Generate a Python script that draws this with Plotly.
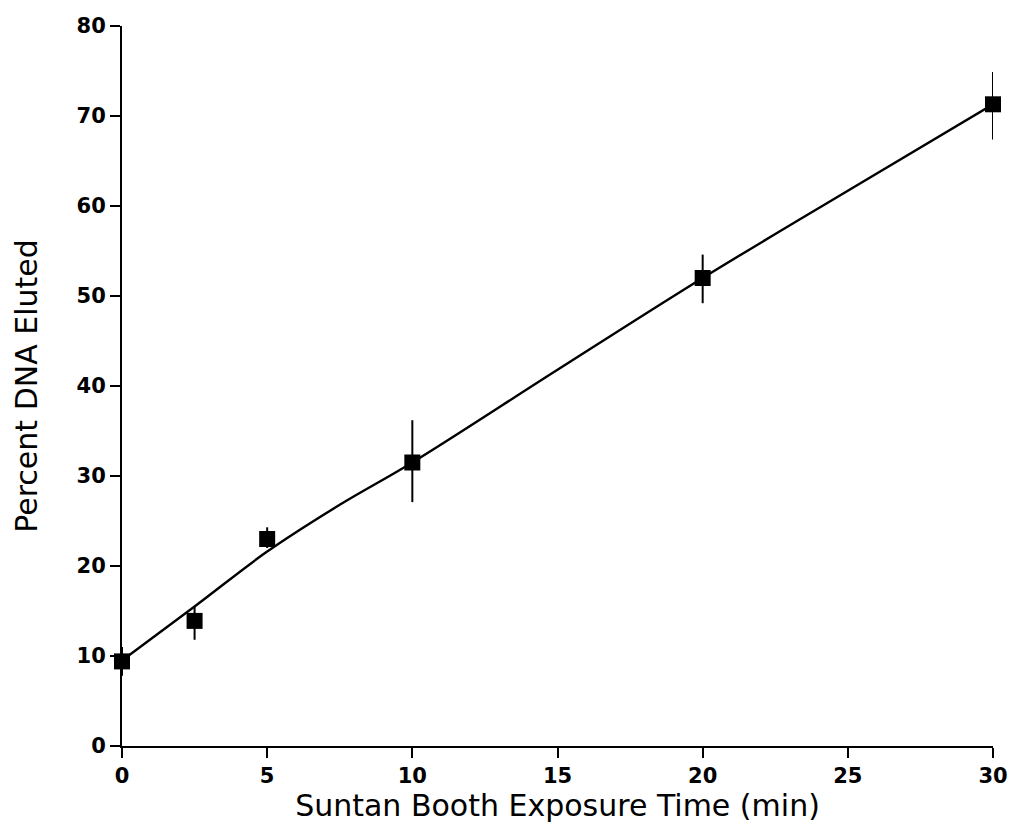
import plotly.graph_objects as go

# Measured data
time_min = [0, 2.5, 5, 10, 20, 30]
pct_eluted = [9.4, 13.9, 23.0, 31.5, 52.0, 71.3]
err_up = [1.6, 1.6, 1.3, 4.7, 2.6, 3.6]
err_down = [1.6, 2.1, 1.0, 4.4, 2.8, 3.9]

# Fitted curve
fit_x = [0, 2.5, 5, 7.5, 10, 15, 20, 25, 30]
fit_y = [9.5, 15.5, 21.6, 26.8, 31.5, 41.8, 52.0, 61.7, 71.3]

x_ticks = [0, 5, 10, 15, 20, 25, 30]
y_ticks = [0, 10, 20, 30, 40, 50, 60, 70, 80]

font_family = "DejaVu Sans, Verdana, sans-serif"

fig = go.Figure()
fig.add_trace(go.Scatter(
    x=fit_x, y=fit_y, mode="lines",
    line=dict(color="black", width=2.4, shape="spline", smoothing=1.0),
    showlegend=False, hoverinfo="skip", cliponaxis=False))
fig.add_trace(go.Scatter(
    x=time_min, y=pct_eluted, mode="markers",
    marker=dict(symbol="square", size=16, color="black"),
    error_y=dict(type="data", array=err_up, arrayminus=err_down,
                 color="black", thickness=2, width=0),
    showlegend=False, cliponaxis=False))

fig.update_layout(
    width=1015, height=831,
    margin=dict(l=122, r=22, t=26, b=85, autoexpand=False),
    paper_bgcolor="white", plot_bgcolor="white",
    font=dict(family=font_family, color="black"),
)
fig.update_xaxes(
    range=[0, 30], tickvals=x_ticks, ticktext=[str(v) for v in x_ticks],
    automargin=False,
    showgrid=False, zeroline=False, showline=True, linecolor="black", linewidth=2,
    ticks="outside", ticklen=10, tickwidth=2, tickcolor="black",
    tickfont=dict(size=21, family=font_family, weight="bold"),
    title=dict(text="Suntan Booth Exposure Time (min)", font=dict(size=30), standoff=2),
)
fig.update_yaxes(
    range=[0, 80], tickvals=y_ticks, ticktext=[str(v) for v in y_ticks],
    automargin=False,
    showgrid=False, zeroline=False, showline=True, linecolor="black", linewidth=2,
    ticks="outside", ticklen=10, tickwidth=2, tickcolor="black",
    tickfont=dict(size=21, family=font_family, weight="bold"),
    title=dict(text="Percent DNA Eluted", font=dict(size=30), standoff=30),
)

fig.write_html("out.html")
